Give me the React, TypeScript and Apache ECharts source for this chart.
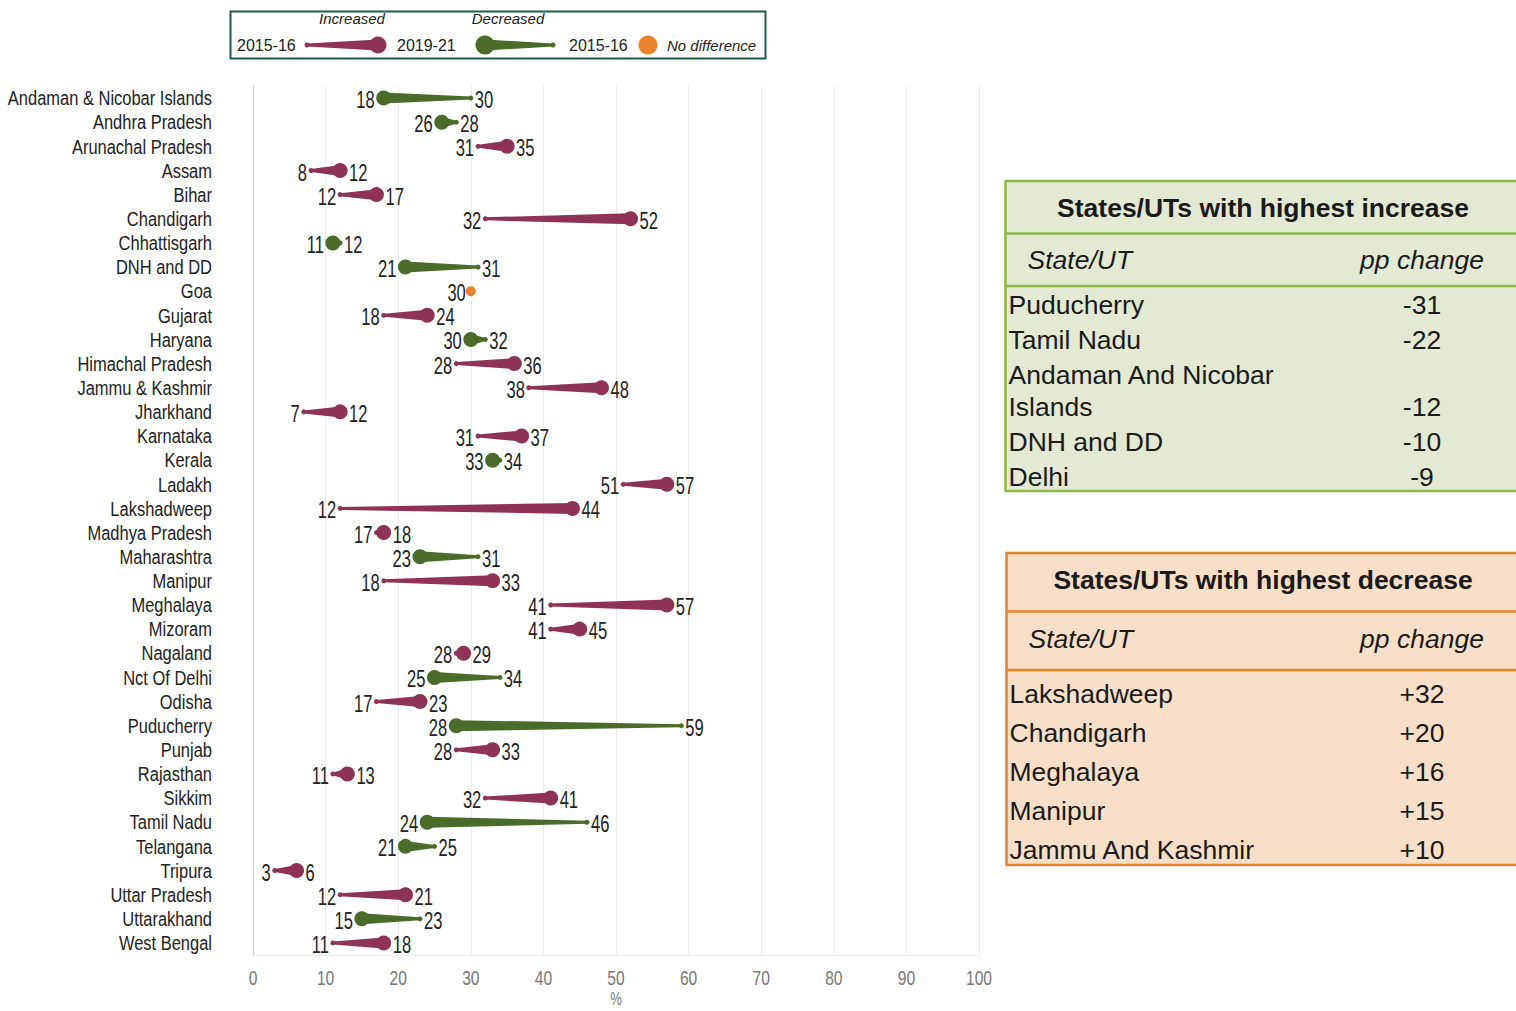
import React, { useEffect, useRef } from "react";
import * as echarts from "echarts";

const states = [
  "Andaman & Nicobar Islands", "Andhra Pradesh", "Arunachal Pradesh", "Assam", "Bihar",
  "Chandigarh", "Chhattisgarh", "DNH and DD", "Goa", "Gujarat", "Haryana",
  "Himachal Pradesh", "Jammu & Kashmir", "Jharkhand", "Karnataka", "Kerala", "Ladakh",
  "Lakshadweep", "Madhya Pradesh", "Maharashtra", "Manipur", "Meghalaya", "Mizoram",
  "Nagaland", "Nct Of Delhi", "Odisha", "Puducherry", "Punjab", "Rajasthan", "Sikkim",
  "Tamil Nadu", "Telangana", "Tripura", "Uttar Pradesh", "Uttarakhand", "West Bengal",
];
const values2015 = [30, 28, 31, 8, 12, 32, 12, 31, 30, 18, 32, 28, 38, 7, 31, 34, 51, 12, 17, 31, 18, 41, 41, 28, 34, 17, 59, 28, 11, 32, 46, 25, 3, 12, 23, 11];
const values2019 = [18, 26, 35, 12, 17, 52, 11, 21, 30, 24, 30, 36, 48, 12, 37, 33, 57, 44, 18, 23, 33, 57, 45, 29, 25, 23, 28, 33, 13, 41, 24, 21, 6, 21, 15, 18];
const xTicks = [0, 10, 20, 30, 40, 50, 60, 70, 80, 90, 100];

const incTitle = "States/UTs with highest increase";
const incNames = ["Puducherry", "Tamil Nadu", "Andaman And Nicobar\nIslands", "DNH and DD", "Delhi"];
const incValues = ["-31", "-22", "-12", "-10", "-9"];
const decTitle = "States/UTs with highest decrease";
const decNames = ["Lakshadweep", "Chandigarh", "Meghalaya", "Manipur", "Jammu And Kashmir"];
const decValues = ["+32", "+20", "+16", "+15", "+10"];

const RED = "#8f3356";
const GREEN = "#4b6b2a";
const ORANGE = "#ea822b";
const ARIAL = "'Liberation Sans',Arial,sans-serif";

function taper(x0: number, x1: number, y: number, rThin: number, rFat: number, hThin: number, hFat: number, color: string) {
  return [
    { type: "polygon", shape: { points: [[x0, y - hThin], [x1, y - hFat], [x1, y + hFat], [x0, y + hThin]] }, style: { fill: color } },
    { type: "circle", shape: { cx: x0, cy: y, r: rThin }, style: { fill: color } },
    { type: "circle", shape: { cx: x1, cy: y, r: rFat }, style: { fill: color } },
  ];
}

function narrowText(text: string, x: number, y: number, size: number, sx: number, color: string, align: string) {
  return {
    type: "text", x, y, scaleX: sx, scaleY: 1,
    style: { text, x: 0, y: 0, font: `${size}px ${ARIAL}`, fill: color, align, verticalAlign: "middle" },
  };
}

function table(x: number, y: number, h: number, line1: number, line2: number, fill: string, stroke: string,
  title: string, titleY: number, headY: number, names: string[], vals: string[], rowYs: number[]) {
  const F = 26.5;
  const els: any[] = [
    { type: "rect", shape: { x, y, width: 560, height: h }, style: { fill, stroke, lineWidth: 2.5 } },
    { type: "line", shape: { x1: x, y1: line1, x2: x + 560, y2: line1 }, style: { stroke, lineWidth: 2.5 } },
    { type: "line", shape: { x1: x, y1: line2, x2: x + 560, y2: line2 }, style: { stroke, lineWidth: 2.5 } },
    { type: "text", x: 1263, y: titleY, style: { text: title, font: `bold ${F}px ${ARIAL}`, fill: "#1a1a1a", align: "center", verticalAlign: "middle" } },
    { type: "text", x: x + 22, y: headY, style: { text: "State/UT", font: `italic ${F}px ${ARIAL}`, fill: "#1a1a1a", align: "left", verticalAlign: "middle" } },
    { type: "text", x: 1422, y: headY, style: { text: "pp change", font: `italic ${F}px ${ARIAL}`, fill: "#1a1a1a", align: "center", verticalAlign: "middle" } },
  ];
  names.forEach((n, i) => {
    const lines = n.split("\n");
    const lh = 32;
    els.push({ type: "text", x: x + 3, y: rowYs[i] - ((lines.length - 1) * lh) / 2, style: { text: n, font: `${F}px ${ARIAL}`, lineHeight: lh, fill: "#1a1a1a", align: "left", verticalAlign: "middle" } });
    els.push({ type: "text", x: 1422, y: rowYs[i], style: { text: vals[i], font: `${F}px ${ARIAL}`, fill: "#1a1a1a", align: "center", verticalAlign: "middle" } });
  });
  return els;
}

export default function App() {
  const ref = useRef<HTMLDivElement>(null);
  useEffect(() => {
    const chart = echarts.init(ref.current!, null, { renderer: "svg" });
    const data = states.map((_, i) => [i, values2015[i], values2019[i]]);
    const legendText = (t: string, x: number, y: number, italic: boolean, align = "left") => ({
      type: "text", x, y, style: { text: t, font: `${italic ? "italic 15px" : "16px"} ${ARIAL}`, fill: "#222", align, verticalAlign: "middle" },
    });
    const graphic: any[] = [
      { type: "rect", shape: { x: 230.5, y: 11.5, width: 535, height: 47 }, style: { fill: "#fff", stroke: "#1f5b4d", lineWidth: 2 } },
      legendText("Increased", 352, 18, true, "center"),
      legendText("Decreased", 508, 18, true, "center"),
      legendText("2015-16", 237, 45, false),
      ...taper(307, 378, 45, 2.5, 8.5, 1.5, 5.5, RED),
      legendText("2019-21", 397, 45, false),
      ...taper(553, 485, 45, 2.5, 9.5, 1.5, 5.5, GREEN),
      legendText("2015-16", 569, 45, false),
      { type: "circle", shape: { cx: 648, cy: 45, r: 9.5 }, style: { fill: ORANGE } },
      legendText("No difference", 667, 45, true),
      narrowText("%", 616, 999, 18, 0.72, "#777", "center"),
      ...table(1005.5, 181, 310, 233.5, 286, "#e3e9d3", "#8cba45", incTitle, 208, 260, incNames, incValues, [305, 340, 407, 442, 477]),
      ...table(1006.5, 553, 312, 611.5, 670, "#f9dfc7", "#e8812e", decTitle, 580, 639, decNames, decValues, [694, 733, 772, 811, 850]),
    ];
    chart.setOption({
      animation: false,
      grid: { left: 253, right: 537, top: 86, bottom: 56, containLabel: false, outerBoundsMode: "none" },
      xAxis: {
        type: "value", min: 0, max: 100, interval: 10,
        axisLine: { show: true, lineStyle: { color: "#eeeeee" } },
        axisTick: { show: false },
        axisLabel: { show: false },
        splitLine: { show: true, lineStyle: { color: "#ebebeb", width: 1 } },
      },
      yAxis: {
        type: "category", data: states, inverse: true,
        axisLine: { show: true, lineStyle: { color: "#c8c8c8", type: "dotted" } },
        axisTick: { show: false },
        axisLabel: { show: false },
        splitLine: { show: false },
      },
      series: [
        {
          type: "custom",
          clip: false,
          encode: { x: [1, 2], y: 0 },
          data,
          renderItem: (params: any, api: any) => {
            const i = api.value(0);
            const a = api.value(1);
            const b = api.value(2);
            const pa = api.coord([a, i]);
            const pb = api.coord([b, i]);
            const y = pa[1];
            const ty = y + 2;
            const cs = params.coordSys;
            const catLabel = narrowText(states[i], cs.x - 41, y, 21, 0.785, "#222", "right");
            if (a === b) {
              return {
                type: "group", children: [
                  catLabel,
                  { type: "circle", shape: { cx: pa[0], cy: y, r: 5 }, style: { fill: ORANGE } },
                  narrowText(String(a), pa[0] - 5, ty, 23, 0.72, "#222", "right"),
                ],
              };
            }
            const color = b > a ? RED : GREEN;
            const rThin = 2.5, rFat = 7.5;
            const leftIsFat = b < a;
            const lx = Math.min(pa[0], pb[0]) - (leftIsFat ? rFat : rThin) - 1.5;
            const rx = Math.max(pa[0], pb[0]) + (leftIsFat ? rThin : rFat) + 1.5;
            return {
              type: "group",
              children: [
                catLabel,
                ...taper(pa[0], pb[0], y, rThin, rFat, 1.5, 5.5, color),
                narrowText(String(Math.min(a, b)), lx, ty, 23, 0.72, "#222", "right"),
                narrowText(String(Math.max(a, b)), rx, ty, 23, 0.72, "#222", "left"),
              ],
            };
          },
        },
        {
          type: "custom",
          clip: false,
          encode: { x: 0 },
          data: xTicks.map((v) => [v]),
          renderItem: (params: any, api: any) => {
            const v = api.value(0);
            const cs = params.coordSys;
            const p = api.coord([v, 0]);
            return narrowText(String(v), p[0], cs.y + cs.height + 23, 20, 0.78, "#777", "center");
          },
        },
      ],
      graphic,
    });
    return () => chart.dispose();
  }, []);
  return <div ref={ref} style={{ position: "fixed", left: 0, top: 0, width: 1516, height: 1011, background: "#fff" }} />;
}
